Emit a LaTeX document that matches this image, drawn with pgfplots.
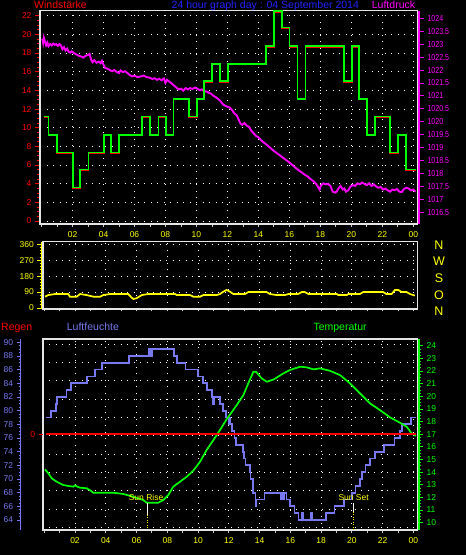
\documentclass[border=0pt]{standalone}
\usepackage{pgfplots}
\pgfplotsset{compat=1.18}
\usepackage{fontspec}
\setmainfont{Liberation Sans}
\newfontfamily\narrowfont[FakeStretch=0.8]{Liberation Sans}
\definecolor{wred}{RGB}{255,0,0}
\definecolor{wgreen}{RGB}{0,255,0}
\definecolor{wmag}{RGB}{255,0,255}
\definecolor{wyel}{RGB}{255,255,0}
\definecolor{wblue}{RGB}{35,35,255}
\definecolor{hum}{RGB}{120,120,240}
\definecolor{framec}{RGB}{228,228,228}
\definecolor{tickgrey}{RGB}{200,200,200}
\pgfplotsset{
  base/.style={scale only axis, xmin=-0.1, xmax=24.26, anchor=south west,
    /pgf/number format/assume math mode=true, /pgf/number format/1000 sep={},
    tick label style={font=\fontsize{8.5}{9}\selectfont}},
  griddot/.style={white, line width=0.9pt, dash pattern=on 0.9pt off 5.6pt},
  frameax/.style={base, axis line style={framec, line width=1.6pt},
    xtick={2,4,...,24}, xticklabels={02,04,06,08,10,12,14,16,18,20,22,00},
    minor xtick={0,1,3,5,7,9,11,13,15,17,19,21,23},
    xtick pos=bottom, ytick pos=left, tick align=outside,
    major tick length=3pt, minor tick length=3pt,
    x tick style={tickgrey, line width=0.8pt}, y tick style={draw=none},
    yticklabels={}, xticklabel style={wyel, yshift=-1.5pt},
    grid=major, major grid style={griddot}},
  dataax/.style={base, hide axis, clip=true},
  scaleax/.style={scale only axis, anchor=south west, width=1pt, xmin=0, xmax=1,
    hide x axis, tick align=outside,
    /pgf/number format/assume math mode=true, /pgf/number format/1000 sep={},
    tick label style={font=\fontsize{8.5}{9}\selectfont}},
}
\pgfplotstableread{
h w
0.13 11.2
0.45 9.25
0.99 7.35
2.02 3.6
2.5 5.5
3.03 7.35
4.05 9.25
4.47 7.35
5.01 9.25
6.5 11.2
7.01 9.25
7.55 11.2
8.05 9.25
8.52 13.1
9.51 11.2
10.02 13.1
10.5 15.0
11.01 16.85
11.53 15.0
12.05 16.85
14.5 18.75
15.01 22.5
15.53 20.75
16.02 18.75
16.52 13.1
17.03 18.75
19.53 15.0
20.06 18.75
20.5 13.1
21.01 9.25
21.53 11.2
22.5 7.35
23.02 9.25
23.54 5.5
24.19 5.5
}\windtab
\pgfplotstableread{
h p
0.05 1023.20
0.10 1023.05
0.15 1023.25
0.22 1023.10
0.30 1022.95
0.38 1023.05
0.45 1022.92
0.55 1023.00
0.65 1022.95
0.75 1023.02
0.85 1022.97
0.95 1023.00
1.05 1022.93
1.15 1023.00
1.25 1022.95
1.35 1022.80
1.45 1022.88
1.55 1022.75
1.65 1022.82
1.75 1022.70
1.85 1022.67
1.95 1022.72
2.1 1022.65
2.25 1022.60
2.4 1022.55
2.55 1022.52
2.7 1022.48
2.85 1022.55
3.0 1022.58
3.1 1022.62
3.2 1022.40
3.3 1022.30
3.4 1022.38
3.55 1022.28
3.7 1022.32
3.8 1022.26
3.9 1022.35
4.0 1022.20
4.1 1022.08
4.25 1022.05
4.4 1022.00
4.55 1021.95
4.7 1022.00
4.85 1021.92
5.0 1021.88
5.1 1021.98
5.25 1021.92
5.4 1021.95
5.55 1021.88
5.7 1021.80
5.85 1021.75
6.0 1021.78
6.2 1021.72
6.4 1021.75
6.6 1021.78
6.8 1021.72
7.0 1021.70
7.15 1021.65
7.3 1021.68
7.45 1021.62
7.6 1021.66
7.75 1021.60
7.9 1021.67
8.0 1021.50
8.1 1021.62
8.25 1021.55
8.4 1021.48
8.55 1021.40
8.7 1021.32
8.85 1021.25
9.0 1021.28
9.15 1021.20
9.3 1021.30
9.45 1021.25
9.6 1021.30
9.75 1021.27
9.9 1021.32
10.05 1021.28
10.2 1021.22
10.35 1021.25
10.5 1021.18
10.65 1021.17
10.8 1021.12
10.95 1021.08
11.1 1021.00
11.25 1020.95
11.4 1020.88
11.55 1020.80
11.7 1020.68
11.85 1020.62
12.0 1020.58
12.15 1020.55
12.3 1020.45
12.45 1020.32
12.6 1020.25
12.75 1020.05
12.85 1019.92
12.95 1019.88
13.1 1019.95
13.25 1019.85
13.4 1019.80
13.55 1019.65
13.7 1019.55
13.85 1019.45
14.0 1019.40
14.15 1019.30
14.3 1019.22
14.45 1019.15
14.6 1019.08
14.75 1019.00
14.9 1018.92
15.05 1018.85
15.2 1018.78
15.35 1018.72
15.5 1018.65
15.65 1018.58
15.8 1018.52
15.95 1018.45
16.1 1018.38
16.25 1018.30
16.4 1018.22
16.55 1018.15
16.7 1018.08
16.85 1018.02
17.0 1017.95
17.15 1017.90
17.3 1017.82
17.45 1017.75
17.6 1017.68
17.75 1017.58
17.85 1017.48
17.95 1017.38
18.05 1017.55
18.2 1017.62
18.35 1017.58
18.5 1017.60
18.65 1017.52
18.8 1017.30
18.95 1017.26
19.05 1017.30
19.2 1017.45
19.3 1017.52
19.45 1017.38
19.55 1017.42
19.65 1017.30
19.8 1017.35
19.95 1017.50
20.1 1017.55
20.25 1017.52
20.4 1017.62
20.55 1017.58
20.7 1017.65
20.85 1017.60
21.0 1017.55
21.15 1017.62
21.3 1017.52
21.45 1017.58
21.6 1017.50
21.75 1017.45
21.9 1017.48
22.05 1017.38
22.2 1017.42
22.35 1017.35
22.5 1017.30
22.65 1017.38
22.8 1017.36
22.95 1017.40
23.1 1017.30
23.25 1017.28
23.4 1017.40
23.55 1017.45
23.7 1017.42
23.85 1017.35
24.0 1017.38
24.15 1017.30
}\prestab
\pgfplotstableread{
h d
0.05 64
0.26 73
0.70 79
1.56 79
1.67 64
2.11 64
2.33 79
2.76 73
3.19 64
3.63 64
3.84 73
4.28 79
5.46 79
5.69 58
5.80 51
6.01 55
6.34 73
6.76 79
8.51 79
8.61 73
9.48 73
9.70 64
10.13 64
10.34 73
11.22 73
11.43 79
11.64 92
11.86 102
12.08 92
12.30 79
13.05 79
13.27 90
14.46 90
14.68 79
15.12 73
15.65 73
15.88 79
16.52 79
16.74 90
16.94 90
17.18 79
19.02 79
19.13 73
19.67 73
19.78 79
20.53 79
20.74 90
22.04 90
22.26 79
22.59 79
22.81 102
23.02 102
23.24 90
23.57 90
23.79 79
24.1 70
}\dirtab
\pgfplotstableread{
h f
0.12 79
0.45 80
0.75 81
0.83 82
1.44 83
1.76 84
2.78 85
3.28 86
3.77 87
5.5 88
6.78 89
6.9 88
7.0 89
8.45 88
8.63 87
9.18 86
9.98 85
10.32 84
10.6 83
10.92 82
10.97 81
11.02 82
11.41 81
11.62 80
11.83 79
12.03 78
12.07 79
12.12 78
12.22 77
12.38 76
12.45 75
12.92 74
13.0 73
13.08 72
13.36 71
13.41 70
13.58 68
13.74 66
13.8 67
14.32 68
15.38 67
15.45 68
15.55 67
15.6 68
15.75 67
16.0 66
16.27 65
16.54 64
16.74 65
16.85 64
17.36 65
17.45 64
18.33 65
18.88 66
19.5 67
20.0 68
20.25 69
20.55 70
20.65 71
20.9 72
21.2 73
21.53 74
22.08 75
22.78 76
23.15 77
23.25 78
23.86 79
24.15 79
}\humtab
\pgfplotstableread{
h t
0.05 14.22
0.27 13.9
0.49 13.51
0.81 13.24
1.24 12.98
1.6 12.9
1.89 12.85
2.0 12.95
2.15 12.85
2.33 12.77
2.76 12.72
3.0 12.55
3.19 12.37
4.49 12.37
5.14 12.27
5.79 12.05
6.44 11.79
6.66 11.58
7.42 11.58
7.74 11.79
8.07 12.19
8.39 12.85
8.83 13.24
9.27 13.64
9.69 14.11
10.13 14.82
10.56 15.75
11.0 16.54
11.43 17.33
11.87 18.2
12.08 18.55
12.52 19.31
12.95 20.1
13.27 21.03
13.6 21.94
13.77 21.94
14.14 21.42
14.47 21.15
14.9 21.32
15.55 21.81
15.98 22.08
16.63 22.34
17.07 22.29
17.5 22.13
17.93 22.21
18.58 22.02
19.23 21.68
19.88 21.03
20.53 20.23
21.18 19.44
21.83 18.91
22.48 18.34
23.13 17.91
23.57 17.59
23.89 17.07
24.17 16.87
}\temptab
\begin{document}
\begin{tikzpicture}
\path[use as bounding box, fill=black] (0,0) rectangle (466pt,555pt);
% ---------- top panel ----------
\begin{axis}[frameax, at={(40pt,331pt)}, width=377.3pt, height=213.3pt,
  ymin=-0.32, ymax=22.54, ytick={0,2,...,22}]
\end{axis}
\begin{axis}[dataax, at={(40pt,331pt)}, width=377.3pt, height=213.3pt,
  ymin=1016.05, ymax=1024.29]
\addplot[wmag, line width=1.9pt] table[x=h, y=p] {\prestab};
\end{axis}
\begin{axis}[dataax, at={(40pt,331pt)}, width=377.3pt, height=213.3pt,
  ymin=-0.32, ymax=22.54]
\addplot[const plot, wred, line width=1.6pt, yshift=-0.9pt] table[x=h, y=w] {\windtab};
\addplot[const plot, wgreen, line width=1.6pt] table[x=h, y=w] {\windtab};
\end{axis}
\begin{axis}[scaleax, at={(39pt,331pt)}, height=213.3pt,
  ymin=-0.32, ymax=22.54, axis y line*=left, y axis line style={draw=none},
  ytick={0,2,...,22}, minor y tick num=3, major tick length=4pt, minor tick length=2pt,
  y tick style={wred, line width=0.8pt}, yticklabel style={wred}]
\end{axis}
\begin{axis}[scaleax, at={(418pt,331pt)}, height=213.3pt,
  ymin=1016.05, ymax=1024.29, axis y line*=right, y axis line style={wmag, line width=1.4pt},
  ytick={1016.5,1017,...,1024}, minor y tick num=3, major tick length=5pt, minor tick length=2.5pt,
  y tick style={wmag, line width=0.8pt}, yticklabel style={wmag, font=\narrowfont\fontsize{8.8}{9}\selectfont},
  /pgf/number format/precision=1]
\end{axis}
% ---------- middle panel ----------
\begin{axis}[frameax, at={(42.7pt,245.7pt)}, width=374.6pt, height=67.6pt,
  ymin=-7.35, ymax=374.7, ytick={0,90,180,270,360}, xticklabels={}, major tick length=2pt, minor tick length=2pt]
\end{axis}
\begin{axis}[dataax, at={(42.7pt,245.7pt)}, width=374.6pt, height=67.6pt,
  ymin=-7.35, ymax=374.7]
\addplot[wyel, line width=1.7pt] table[x=h, y=d] {\dirtab};
\end{axis}
\begin{axis}[scaleax, at={(41.7pt,245.7pt)}, height=67.6pt,
  ymin=-7.35, ymax=374.7, axis y line*=left, y axis line style={wyel, line width=1.4pt},
  ytick={0,90,180,270,360}, minor y tick num=4, major tick length=4.4pt, minor tick length=2pt,
  y tick style={wyel, line width=0.8pt}, yticklabel style={wyel}]
\end{axis}
\foreach \l/\y in {N/310,W/293.3,S/276.7,O/260,N/244}{
  \node[wyel, font=\fontsize{12.5}{13}\selectfont, inner sep=0pt] at (439pt,\y pt) {\l};
}
% ---------- bottom panel ----------
\begin{axis}[frameax, at={(42.7pt,25pt)}, width=374.6pt, height=190.7pt,
  ymin=-0.15, ymax=10.27, ytick={0,1,...,10}]
\end{axis}
\begin{axis}[dataax, at={(42.7pt,25pt)}, width=374.6pt, height=190.7pt,
  ymin=62.54, ymax=90.44]
\addplot[const plot, hum, line width=1.7pt] table[x=h, y=f] {\humtab};
\end{axis}
\begin{axis}[dataax, at={(42.7pt,25pt)}, width=374.6pt, height=190.7pt,
  ymin=9.42, ymax=24.51]
\addplot[wgreen, line width=1.7pt] table[x=h, y=t] {\temptab};
\draw[white, line width=1pt] (axis cs:6.7,11.56) -- (axis cs:6.7,10.61);
\draw[wyel, line width=0.8pt, dash pattern=on 1pt off 1.5pt] (axis cs:6.7,10.61) -- (axis cs:6.7,9.42);
\draw[white, line width=1pt] (axis cs:20.12,11.53) -- (axis cs:20.12,10.87);
\draw[wyel, line width=0.8pt, dash pattern=on 1pt off 1.5pt] (axis cs:20.12,10.87) -- (axis cs:20.12,9.42);
\end{axis}
\begin{axis}[dataax, at={(42.7pt,25pt)}, width=374.6pt, height=190.7pt,
  ymin=-4.785, ymax=4.75]
\addplot[const plot, wred, line width=1.7pt] coordinates {(0.12,0) (24.15,0)};
\end{axis}
\begin{axis}[dataax, clip=false, at={(42.7pt,25pt)}, width=374.6pt, height=190.7pt,
  ymin=9.42, ymax=24.51]
\node[wyel, font=\fontsize{8.5}{9}\selectfont] at (axis cs:6.62,12.0) {Sun Rise};
\node[wyel, font=\fontsize{8.5}{9}\selectfont] at (axis cs:20.12,12.0) {Sun Set};
\end{axis}
\begin{axis}[scaleax, at={(20.7pt,25pt)}, height=190.7pt,
  ymin=62.54, ymax=90.44, axis y line*=left, y axis line style={hum, line width=1.4pt},
  ytick={64,66,...,90}, minor y tick num=3, major tick length=4pt, minor tick length=2pt,
  y tick style={hum, line width=0.8pt}, yticklabel style={hum}]
\end{axis}
\begin{axis}[scaleax, at={(42.7pt,25pt)}, height=190.7pt,
  ymin=-4.785, ymax=4.75, axis y line*=left, y axis line style={draw=none},
  ytick={0}, major tick length=4pt,
  y tick style={wred, line width=0.9pt}, yticklabel style={wred}]
\end{axis}
\begin{axis}[scaleax, at={(418pt,25pt)}, height=190.7pt,
  ymin=9.42, ymax=24.51, axis y line*=right, y axis line style={wgreen, line width=1.4pt},
  ytick={10,11,...,24}, minor y tick num=3, major tick length=4pt, minor tick length=2pt,
  y tick style={wgreen, line width=0.8pt}, yticklabel style={wgreen}]
\end{axis}
% ---------- titles ----------
\node[wred, anchor=base west, inner sep=0pt, font=\fontsize{10.5}{12}\selectfont] at (34pt,546pt) {Windstärke};
\node[wblue, anchor=base, inner sep=0pt, font=\fontsize{10.5}{12}\selectfont] at (265.3pt,546pt) {24 hour graph day : 04 September 2014};
\node[wmag, anchor=base west, inner sep=0pt, font=\fontsize{10.5}{12}\selectfont] at (371.7pt,546pt) {Luftdruck};
\node[wred, anchor=base west, inner sep=0pt, font=\fontsize{10.5}{12}\selectfont] at (1pt,224.6pt) {Regen};
\node[hum, anchor=base west, inner sep=0pt, font=\fontsize{10.5}{12}\selectfont] at (66.7pt,224.6pt) {Luftfeuchte};
\node[wgreen, anchor=base west, inner sep=0pt, font=\fontsize{10.5}{12}\selectfont] at (313.3pt,224.6pt) {Temperatur};
\end{tikzpicture}
\end{document}
